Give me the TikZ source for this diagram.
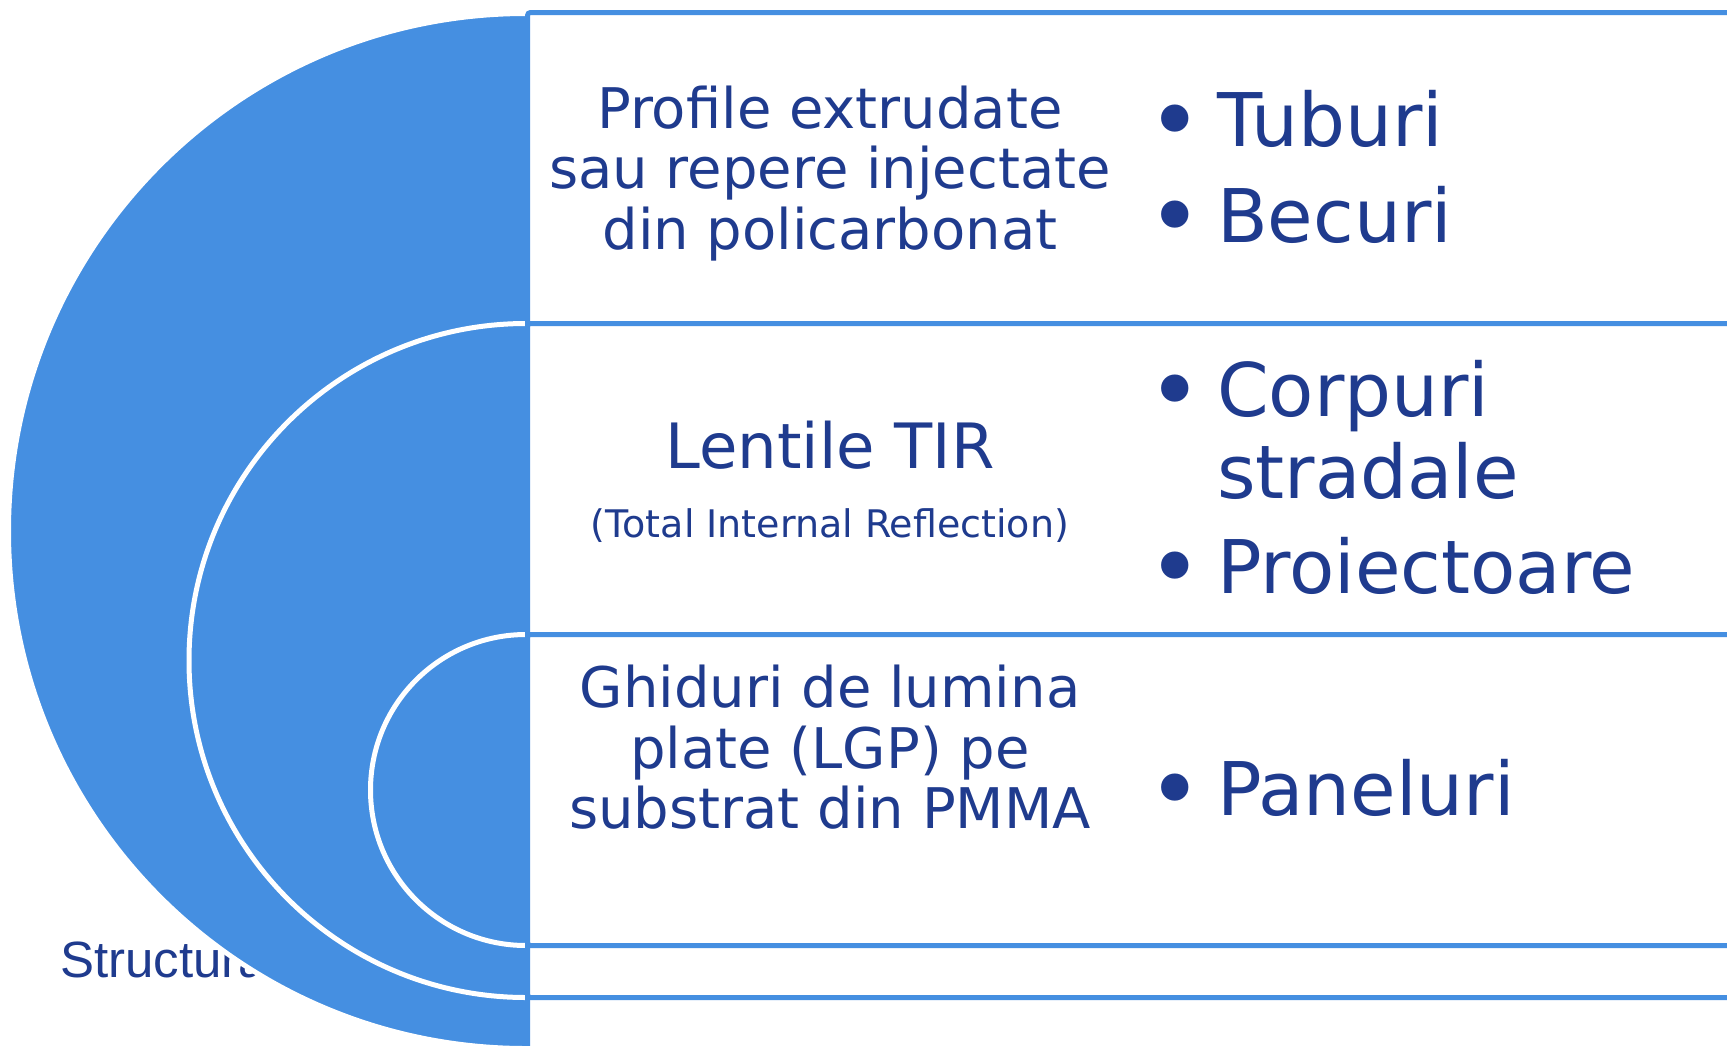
\documentclass[tikz,border=0pt]{standalone}
\usepackage{fontspec}
\setmainfont{DejaVu Sans}
\newfontfamily\arialf{Liberation Sans}
\definecolor{fillblue}{RGB}{69,143,225}
\definecolor{navy}{RGB}{31,59,142}
\begin{document}
\begin{tikzpicture}[x=1pt,y=-1pt,
  disk/.style={fill=fillblue,draw=white,line width=5pt},
  panel/.style={fill=white,draw=fillblue,line width=5pt,rounded corners=3pt},
  midtxt/.style={text=navy,inner sep=0pt,anchor=base,font=\fontsize{56}{60}\selectfont},
  bigtxt/.style={text=navy,inner sep=0pt,anchor=base west,font=\fontsize{74}{80}\selectfont},
  bul/.style={text=navy,inner sep=0pt,anchor=base,font=\fontsize{94}{100}\selectfont}
]
\useasboundingbox (0,0) rectangle (1727,1045);
\fill[white] (0,0) rectangle (1727,1045);
% partially hidden label
\node[text=navy,inner sep=0pt,anchor=base west,font=\arialf\fontsize{51}{56}\selectfont] (structura) at (60,977) {Structura};
% nested half disks
\draw[disk] (526,531) circle[radius=517.5pt];
\draw[disk] (526,660.5) circle[radius=337pt];
\draw[disk] (526,790) circle[radius=155.5pt];
% panels
\draw[panel] (527.5,12.5) rectangle (1760,1090);
\draw[panel] (527.5,323.5) rectangle (1760,997.5);
\draw[panel] (527.5,634.5) rectangle (1760,945.5);
% panel 1 text
\node[midtxt] (p1a) at (830,128) {Profile extrudate};
\node[midtxt] (p1b) at (830,188.5) {sau repere injectate};
\node[midtxt] (p1c) at (830,249) {din policarbonat};
\node[bul] (b1) at (1175,153.5) {•};
\node[bigtxt] (t1) at (1217,146) {Tuburi};
\node[bul] (b2) at (1175,249.5) {•};
\node[bigtxt] (t2) at (1217,242) {Becuri};
% panel 2 text
\node[midtxt,font=\fontsize{62.5}{68}\selectfont] (p2a) at (830,468) {Lentile TIR};
\node[midtxt,font=\fontsize{38}{42}\selectfont] (p2b) at (830,537) {(Total Internal Reflection)};
\node[bul] (b3) at (1175,423.5) {•};
\node[bigtxt] (t3) at (1217,416) {Corpuri};
\node[bigtxt] (t3b) at (1217,498) {stradale};
\node[bul] (b4) at (1175,600.5) {•};
\node[bigtxt] (t4) at (1217,593) {Proiectoare};
% panel 3 text
\node[midtxt] (p3a) at (830,707) {Ghiduri de lumina};
\node[midtxt] (p3b) at (830,768) {plate (LGP) pe};
\node[midtxt] (p3c) at (830,828) {substrat din PMMA};
\node[bul] (b5) at (1175,822.5) {•};
\node[bigtxt] (t5) at (1217,815) {Paneluri};
\end{tikzpicture}
\end{document}
